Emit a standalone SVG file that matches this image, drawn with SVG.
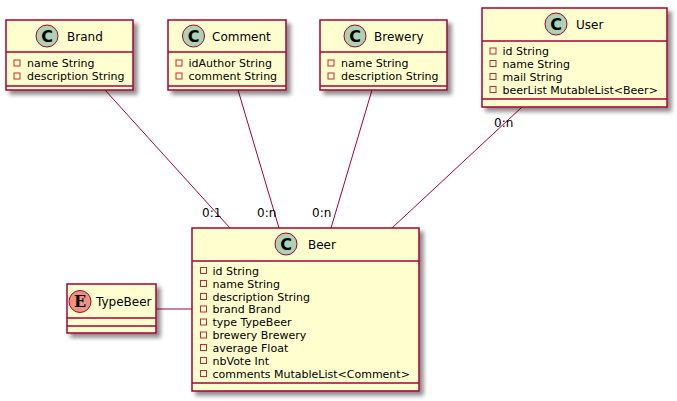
<svg xmlns="http://www.w3.org/2000/svg" width="677" height="401" viewBox="0 0 677 401">
<defs>
<filter id="sh" x="-10%" y="-10%" width="130%" height="130%">
<feGaussianBlur in="SourceAlpha" stdDeviation="2"/>
<feOffset dx="4" dy="4" result="b"/>
<feComponentTransfer><feFuncA type="linear" slope="0.45"/></feComponentTransfer>
<feMerge><feMergeNode/><feMergeNode in="SourceGraphic"/></feMerge>
</filter>
</defs>
<style>
.box{fill:#FEFECE;stroke:#A80036;stroke-width:1.5;}
.div{stroke:#A80036;stroke-width:1.5;}
.ci{fill:#ADD1B2;stroke:#A80036;stroke-width:1;}
.ei{fill:#EB937F;stroke:#A80036;stroke-width:1;}
.lt{font-family:"DejaVu Sans",sans-serif;font-size:16px;font-weight:bold;fill:#000;}
.ltE{font-family:"DejaVu Serif",serif;font-size:16px;font-weight:bold;fill:#000;}
.t{font-family:"DejaVu Sans",sans-serif;font-size:12px;fill:#000;}
.a{font-family:"DejaVu Sans",sans-serif;font-size:11px;fill:#000;}
.v{fill:none;stroke:#C82930;stroke-width:1;}
.c{stroke:#A80036;stroke-width:1;fill:none;}
.l{font-family:"DejaVu Sans",sans-serif;font-size:12px;fill:#000;}
</style>
<rect width="677" height="401" fill="#FFFFFF"/>
<g id="connectors">
<line class="c" x1="105" y1="90" x2="230" y2="228"/>
<line class="c" x1="238" y1="90" x2="279" y2="228"/>
<line class="c" x1="372" y1="90" x2="331" y2="228"/>
<line class="c" x1="522" y1="107" x2="392" y2="228"/>
<line class="c" x1="156" y1="309" x2="192" y2="309"/>
<text class="l" x="202" y="217">0:1</text>
<text class="l" x="257" y="217">0:n</text>
<text class="l" x="312" y="217">0:n</text>
<text class="l" x="494" y="127">0:n</text>
</g>
<g id="Brand">
<rect class="box" x="6" y="20" width="127" height="70" filter="url(#sh)"/>
<line class="div" x1="6" y1="52" x2="133" y2="52"/>
<line class="div" x1="6" y1="86" x2="133" y2="86"/>
<circle class="ci" cx="47" cy="36" r="11"/>
<text class="lt" x="47" y="41.5" text-anchor="middle">C</text>
<text class="t" x="67" y="40.5">Brand</text>
<rect class="v" x="14" y="60" width="6" height="6"/>
<text class="a" x="27" y="67">name String</text>
<rect class="v" x="14" y="73" width="6" height="6"/>
<text class="a" x="27" y="80">description String</text>
</g>
<g id="Comment">
<rect class="box" x="168" y="20" width="118" height="70" filter="url(#sh)"/>
<line class="div" x1="168" y1="52" x2="286" y2="52"/>
<line class="div" x1="168" y1="86" x2="286" y2="86"/>
<circle class="ci" cx="193.5" cy="36" r="11"/>
<text class="lt" x="193.5" y="41.5" text-anchor="middle">C</text>
<text class="t" x="212" y="40.5">Comment</text>
<rect class="v" x="176" y="60" width="6" height="6"/>
<text class="a" x="188.5" y="67">idAuthor String</text>
<rect class="v" x="176" y="73" width="6" height="6"/>
<text class="a" x="188.5" y="80">comment String</text>
</g>
<g id="Brewery">
<rect class="box" x="320" y="20" width="127" height="70" filter="url(#sh)"/>
<line class="div" x1="320" y1="52" x2="447" y2="52"/>
<line class="div" x1="320" y1="86" x2="447" y2="86"/>
<circle class="ci" cx="355" cy="36" r="11"/>
<text class="lt" x="355" y="41.5" text-anchor="middle">C</text>
<text class="t" x="374" y="40.5">Brewery</text>
<rect class="v" x="328" y="60" width="6" height="6"/>
<text class="a" x="341" y="67">name String</text>
<rect class="v" x="328" y="73" width="6" height="6"/>
<text class="a" x="341" y="80">description String</text>
</g>
<g id="User">
<rect class="box" x="482" y="8" width="185" height="99" filter="url(#sh)"/>
<line class="div" x1="482" y1="41" x2="667" y2="41"/>
<line class="div" x1="482" y1="99" x2="667" y2="99"/>
<circle class="ci" cx="556" cy="24" r="11"/>
<text class="lt" x="556" y="29.5" text-anchor="middle">C</text>
<text class="t" x="576" y="28.5">User</text>
<rect class="v" x="490" y="48" width="6" height="6"/>
<text class="a" x="502.5" y="55">id String</text>
<rect class="v" x="490" y="60.5" width="6" height="6"/>
<text class="a" x="502.5" y="67.5">name String</text>
<rect class="v" x="490" y="73.5" width="6" height="6"/>
<text class="a" x="502.5" y="80.5">mail String</text>
<rect class="v" x="490" y="86.5" width="6" height="6"/>
<text class="a" x="502.5" y="93.5">beerList MutableList&lt;Beer&gt;</text>
</g>
<g id="Beer">
<rect class="box" x="192" y="228" width="227" height="163" filter="url(#sh)"/>
<line class="div" x1="192" y1="261" x2="419" y2="261"/>
<line class="div" x1="192" y1="383" x2="419" y2="383"/>
<circle class="ci" cx="286" cy="244" r="11"/>
<text class="lt" x="286" y="249.5" text-anchor="middle">C</text>
<text class="t" x="308" y="248.5">Beer</text>
<rect class="v" x="200.5" y="267.5" width="6" height="6"/>
<text class="a" x="212.5" y="274.5">id String</text>
<rect class="v" x="200.5" y="280.5" width="6" height="6"/>
<text class="a" x="212.5" y="287.5">name String</text>
<rect class="v" x="200.5" y="293.5" width="6" height="6"/>
<text class="a" x="212.5" y="300.5">description String</text>
<rect class="v" x="200.5" y="306" width="6" height="6"/>
<text class="a" x="212.5" y="313">brand Brand</text>
<rect class="v" x="200.5" y="319" width="6" height="6"/>
<text class="a" x="212.5" y="326">type TypeBeer</text>
<rect class="v" x="200.5" y="332" width="6" height="6"/>
<text class="a" x="212.5" y="339">brewery Brewery</text>
<rect class="v" x="200.5" y="344.5" width="6" height="6"/>
<text class="a" x="212.5" y="351.5">average Float</text>
<rect class="v" x="200.5" y="357.5" width="6" height="6"/>
<text class="a" x="212.5" y="364.5">nbVote Int</text>
<rect class="v" x="200.5" y="370.5" width="6" height="6"/>
<text class="a" x="212.5" y="377.5">comments MutableList&lt;Comment&gt;</text>
</g>
<g id="TypeBeer">
<rect class="box" x="67" y="284" width="89" height="49" filter="url(#sh)"/>
<line class="div" x1="67" y1="318" x2="156" y2="318"/>
<line class="div" x1="67" y1="326" x2="156" y2="326"/>
<circle class="ei" cx="80" cy="301.5" r="11"/>
<text class="ltE" x="80" y="307" text-anchor="middle">E</text>
<text class="t" x="96" y="306">TypeBeer</text>
</g>
</svg>
